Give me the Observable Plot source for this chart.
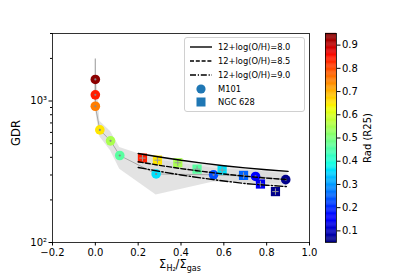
<!DOCTYPE html>
<html><head><meta charset="utf-8">
<script src="https://cdn.jsdelivr.net/npm/d3@7"></script>
<script src="https://cdn.jsdelivr.net/npm/@observablehq/plot@0.6"></script>
<style>
body{margin:0;background:#fff;font-family:"DejaVu Sans",sans-serif;}
#wrap{position:relative;width:415px;height:277px;overflow:hidden;}
#wrap > div, #wrap > svg{position:absolute;}
.leg{position:absolute;left:184px;top:37px;width:119px;height:73px;border:1px solid #d0d0d0;border-radius:3px;background:rgba(255,255,255,0.85);font-size:8.3px;color:#000;}
.leg .row{position:absolute;left:0;height:12px;display:flex;align-items:center;}
.leg .row svg{margin-left:5px;margin-right:6px;}
</style></head>
<body><div id="wrap"></div>
<script>
// ---- data ----
const m101X   = [0.0, 0.0, 0.0, 0.021, 0.071, 0.114, 0.284, 0.552, 0.748, 0.889];
const m101GDR = [1420, 1105, 918, 625, 523, 412, 305, 301, 293, 278];
const m101Rad = [0.94, 0.84, 0.75, 0.65, 0.55, 0.46, 0.36, 0.23, 0.15, 0.06];
const m101ErrLo = [1000, 1000, 850, 600, 500, 395, 300, 296, 288, 274];
const m101ErrHi = [1980, 1200, 990, 650, 545, 430, 310, 306, 298, 282];

const ngcX   = [0.22, 0.29, 0.385, 0.475, 0.592, 0.692, 0.771, 0.841];
const ngcGDR = [395, 382, 366, 330, 325, 298, 259, 229];
const ngcRad = [0.84, 0.65, 0.55, 0.46, 0.36, 0.25, 0.14, 0.06];

// grey envelope around M101
const bandX  = [0.0, 0.021, 0.071, 0.114, 0.284, 0.552, 0.748, 0.889];
const bandLo = [880, 560, 445, 330, 217, 268, 262, 258];
const bandHi = [1980, 720, 610, 470, 385, 335, 320, 305];

// model curves
const modelX   = [0.2, 0.3, 0.4, 0.5, 0.6, 0.7, 0.8, 0.9];
const model80  = [426, 402, 381, 364, 349, 337, 327, 318];
const model85  = [372, 351, 333, 318, 305, 294, 285, 278];
const model90  = [339, 318, 300, 285, 272, 261, 254, 248];
const modelLabels = ["12+log(O/H)=8.0", "12+log(O/H)=8.5", "12+log(O/H)=9.0"];
const galaxyLabels = ["M101", "NGC 628"];

const xTicks = [-0.2, 0.0, 0.2, 0.4, 0.6, 0.8, 1.0];
const yMajor = [100, 1000];
const yMinor = [200, 300, 400, 500, 600, 700, 800, 900, 2000, 3000];
const radTicks = [0.1, 0.2, 0.3, 0.4, 0.5, 0.6, 0.7, 0.8, 0.9];

// ---- tables ----
const m101 = m101X.map((x, i) => ({x, y: m101GDR[i], rad: m101Rad[i], lo: m101ErrLo[i], hi: m101ErrHi[i]}));
const ngc = ngcX.map((x, i) => ({x, y: ngcGDR[i], rad: ngcRad[i]}));
const band = bandX.map((x, i) => ({x, lo: bandLo[i], hi: bandHi[i]}));
const models = modelX.map((x, i) => ({x, a: model80[i], b: model85[i], c: model90[i]}));

// jet colormap
function seg(pts, t){for(let i=1;i<pts.length;i++){if(t<=pts[i][0]){const[a,va]=pts[i-1],[b,vb]=pts[i];return va+(vb-va)*(t-a)/(b-a);}}return pts[pts.length-1][1];}
function jet(t){
  t=Math.max(0,Math.min(1,t));
  const r=seg([[0,0],[0.35,0],[0.66,1],[0.89,1],[1,0.5]],t);
  const g=seg([[0,0],[0.125,0],[0.375,1],[0.64,1],[0.91,0],[1,0]],t);
  const b=seg([[0,0.5],[0.11,1],[0.34,1],[0.65,0],[1,0]],t);
  return d3.rgb(r*255,g*255,b*255).toString();
}
const colorOpts = {type:"linear", domain:[0.05,0.95], interpolate: jet};

const supers = {"0":"⁰","1":"¹","2":"²","3":"³","4":"⁴"};
const fmtPow = d => "10" + String(Math.round(Math.log10(d))).split("").map(c=>supers[c]).join("");

const main = Plot.plot({
  width: 415, height: 277,
  marginLeft: 52, marginRight: 106, marginTop: 33, marginBottom: 35,
  style: {fontFamily: "DejaVu Sans", fontSize: "10px", color: "#000", background: "transparent"},
  x: {domain: [-0.2, 1.0]},
  y: {type: "log", domain: [100, 3000]},
  color: colorOpts,
  marks: [
    Plot.areaY(band, {x: "x", y1: "lo", y2: "hi", fill: "#d9d9d9", fillOpacity: 0.75}),
    Plot.areaY(models, {x: "x", y1: "c", y2: "a", fill: "#d9d9d9", fillOpacity: 0.6}),
    Plot.ruleX(m101, {x: "x", y1: "lo", y2: "hi", stroke: "#aaa", strokeWidth: 1.2}),
    Plot.line(m101, {x: "x", y: "y", stroke: "#999", strokeWidth: 0.8}),
    Plot.dot(m101, {x: "x", y: "y", r: 4.8, fill: d => d.rad, stroke: "none"}),
    Plot.dot(ngc, {x: "x", y: "y", symbol: "square", r: 5.2, fill: d => d.rad, stroke: "none"}),
    Plot.dot(m101, {x: "x", y: "y", r: 1.1, fill: "#888"}),
    Plot.dot(ngc, {x: "x", y: "y", symbol: "plus", r: 2.2, stroke: "#999", strokeWidth: 1}),
    Plot.line(models, {x: "x", y: "a", stroke: "#000", strokeWidth: 1.4}),
    Plot.line(models, {x: "x", y: "b", stroke: "#000", strokeWidth: 1.4, strokeDasharray: "5,2.2"}),
    Plot.line(models, {x: "x", y: "c", stroke: "#000", strokeWidth: 1.4, strokeDasharray: "8,2.2,1.4,2.2"}),
    Plot.frame({stroke: "#000", strokeWidth: 0.8}),
    Plot.axisX({ticks: xTicks, tickFormat: d3.format(".1f"), tickSize: 3.5, tickPadding: 3, fontSize: 10, label: null}),
    Plot.axisY({ticks: yMajor, tickFormat: fmtPow, tickSize: 3.5, tickPadding: 2, fontSize: 10, label: null}),
    Plot.axisY({ticks: yMinor, tickFormat: () => "", tickSize: 2, label: null})
  ]
});
main.style.left = "0px"; main.style.top = "0px";

// colorbar
const cbSteps = d3.range(0, 180).map(i => ({y1: 0.05 + i*0.005, y2: 0.05 + (i+1)*0.005}));
const cbar = Plot.plot({
  width: 90, height: 277,
  marginLeft: 0, marginRight: 79, marginTop: 33, marginBottom: 35,
  style: {fontFamily: "DejaVu Sans", fontSize: "10px", color: "#000", background: "transparent"},
  x: {domain: [0, 1], axis: null},
  y: {domain: [0.05, 0.95], axis: null},
  color: colorOpts,
  marks: [
    Plot.rect(cbSteps, {x1: 0, x2: 1, y1: "y1", y2: "y2", fill: d => (d.y1 + d.y2) / 2, stroke: d => (d.y1 + d.y2) / 2, strokeWidth: 0.3}),
    Plot.frame({stroke: "#000", strokeWidth: 0.8}),
    Plot.axisY({anchor: "right", ticks: radTicks, tickFormat: d3.format(".1f"), tickSize: 3.5, tickPadding: 2, fontSize: 10,
      label: "Rad (R25)", labelAnchor: "center", labelArrow: "none", labelOffset: 34})
  ]
});
cbar.style.left = "325px"; cbar.style.top = "0px";

const wrap = document.getElementById("wrap");
wrap.appendChild(main);
wrap.appendChild(cbar);

// axis titles (HTML text)
const yl = document.createElement("div");
yl.textContent = "GDR";
yl.style.cssText = "left:1px;top:126px;font-size:11.5px;transform:rotate(-90deg);transform-origin:center;width:30px;text-align:center;";
wrap.appendChild(yl);
const xl = document.createElement("div");
xl.innerHTML = "Σ<span style='font-size:8px;position:relative;top:3px'>H₂</span>/Σ<span style='font-size:8px;position:relative;top:3px'>gas</span>";
xl.style.cssText = "left:130px;top:259px;width:100px;text-align:center;font-size:11.5px;line-height:11px;";
wrap.appendChild(xl);

// legend
const leg = document.createElement("div");
leg.className = "leg";
const dashes = ["", "4,1.8", "6,1.8,1.2,1.8"];
const rowTops = [3, 17, 31, 45, 58];
modelLabels.forEach((lab, i) => {
  const r = document.createElement("div"); r.className = "row"; r.style.top = rowTops[i] + "px";
  r.innerHTML = `<svg width="22" height="6"><line x1="0" y1="3" x2="22" y2="3" stroke="#000" stroke-width="1.4" stroke-dasharray="${dashes[i]}"/></svg><span>${lab}</span>`;
  leg.appendChild(r);
});
galaxyLabels.forEach((lab, i) => {
  const r = document.createElement("div"); r.className = "row"; r.style.top = rowTops[3 + i] + "px";
  const sym = i === 0 ? `<circle cx="11" cy="5" r="4.6" fill="#1f77b4"/>` : `<rect x="6.5" y="0.5" width="9" height="9" fill="#1f77b4"/>`;
  r.innerHTML = `<svg width="22" height="10">${sym}</svg><span>${lab}</span>`;
  leg.appendChild(r);
});
wrap.appendChild(leg);
</script></body></html>
